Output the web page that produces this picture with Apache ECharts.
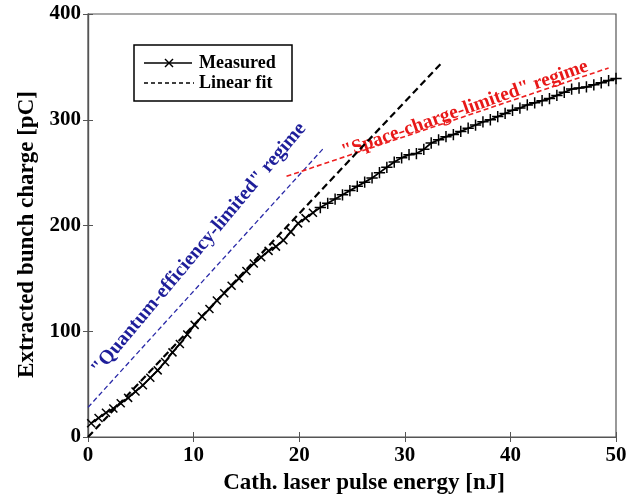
<!DOCTYPE html>
<html><head><meta charset="utf-8">
<script src="https://cdn.jsdelivr.net/npm/echarts@6/dist/echarts.min.js"></script>
<style>html,body{margin:0;padding:0;background:#fff}#c{width:639px;height:500px}</style>
</head><body><div id="c"></div>
<script>
const energy = [0.3,1.0,1.7,2.4,3.1,3.8,4.5,5.2,5.9,6.6,7.3,8.0,8.7,9.4,10.1,10.8,11.5,12.2,12.9,13.6,14.3,15.0,15.7,16.4,17.1,17.8,18.5,19.2,19.9,20.6,21.3,22.0,22.7,23.4,24.1,24.8,25.5,26.2,26.9,27.6,28.3,29.0,29.7,30.4,31.1,31.8,32.5,33.2,33.9,34.6,35.3,36.0,36.7,37.4,38.1,38.8,39.5,40.2,40.9,41.6,42.3,43.0,43.7,44.4,45.1,45.8,46.5,47.2,47.9,48.6,49.3,50.0];
const charge = [13,18,23,27,32,37,43,49,56,63,71,80,88,97,106,114,121,129,136,143,150,157,164,170,176,180,186,194,202,207,212,217,221,225,229,233,237,241,245,250,255,260,264,267,268,272,278,281,284,286,289,292,295,298,300,303,306,309,311,314,316,318,320,323,326,329,330,331,333,335,337,339];
const fitX = [0, 33.6], fitY = [0, 355];
const qeX = [0, 22.3], qeY = [28, 273];
const scX = [18.8, 49.3], scY = [246.5, 349];
const xTicks = [0,10,20,30,40,50];
const yTicks = [0,100,200,300,400];
const legendNames = ['Measured', 'Linear fit'];
const qeLabel = '"Quantum-efficiency-limited" regime';
const scLabel = '"Space-charge-limited" regime';
const qeLabelPos = [10.5, 178];
const scLabelPos = [35.7, 310];

const FONT = '"Times New Roman", "Liberation Serif", serif';
const pair = (xs, ys) => xs.map((v, i) => [v, ys[i]]);
const chart = echarts.init(document.getElementById('c'));
const axisCommon = {
  axisLine: {show: true, lineStyle: {color: '#555', width: 1.2}},
  axisTick: {show: true, inside: true, length: 5, lineStyle: {color: '#555'}},
  splitLine: {show: false}
};
const lblStyle = {fontFamily: FONT, fontWeight: 'bold', fontSize: 21, color: '#000'};
const nameStyle = {fontFamily: FONT, fontWeight: 'bold', fontSize: 23, color: '#000'};

// hand-drawn legend box (decoration only)
const LX = 134, LY = 45;
const legendGraphic = [
  {type: 'rect', shape: {x: LX, y: LY, width: 158, height: 56}, style: {fill: '#fff', stroke: '#000', lineWidth: 1.5}, z: 10},
  {type: 'line', shape: {x1: LX + 10, y1: LY + 18, x2: LX + 58, y2: LY + 18}, style: {stroke: '#000', lineWidth: 1.5}, z: 11},
  {type: 'line', shape: {x1: LX + 31, y1: LY + 14, x2: LX + 39, y2: LY + 22}, style: {stroke: '#000', lineWidth: 1.5}, z: 11},
  {type: 'line', shape: {x1: LX + 39, y1: LY + 14, x2: LX + 31, y2: LY + 22}, style: {stroke: '#000', lineWidth: 1.5}, z: 11},
  {type: 'text', x: LX + 65, y: LY + 18, style: {text: legendNames[0], fill: '#000', font: 'bold 18px ' + FONT, verticalAlign: 'middle'}, z: 11},
  {type: 'line', shape: {x1: LX + 10, y1: LY + 38, x2: LX + 60, y2: LY + 38}, style: {stroke: '#000', lineWidth: 1.3, lineDash: [4, 3]}, z: 11},
  {type: 'text', x: LX + 65, y: LY + 38, style: {text: legendNames[1], fill: '#000', font: 'bold 18px ' + FONT, verticalAlign: 'middle'}, z: 11}
];

chart.setOption({
  animation: false,
  backgroundColor: '#fff',
  grid: {left: 88, right: 23, top: 14, bottom: 58, show: true, borderColor: '#555', borderWidth: 1.2},
  xAxis: [{
    type: 'value', min: 0, max: 50, interval: 10, ...axisCommon,
    axisLabel: {margin: 8, ...lblStyle, formatter: v => xTicks.includes(v) ? String(v) : ''},
    name: 'Cath. laser pulse energy [nJ]', nameLocation: 'middle', nameGap: 35,
    nameTextStyle: {...nameStyle, padding: [0, 0, 0, 24]}
  }, {
    type: 'value', position: 'top', min: 0, max: 50, interval: 10, ...axisCommon, axisLabel: {show: false}
  }],
  yAxis: [{
    type: 'value', min: 0, max: 400, interval: 100, ...axisCommon,
    axisLabel: {margin: 7, ...lblStyle, formatter: v => yTicks.includes(v) ? String(v) : ''},
    name: 'Extracted bunch charge [pC]', nameLocation: 'middle', nameGap: 48,
    nameTextStyle: {...nameStyle, padding: [0, 18, 0, 0]}
  }, {
    type: 'value', position: 'right', min: 0, max: 400, interval: 100, ...axisCommon, axisLabel: {show: false}
  }],
  series: [
    {name: legendNames[1], type: 'line', data: pair(fitX, fitY), symbol: 'none',
     lineStyle: {color: '#000', width: 2.2, type: [7, 4]}, z: 3},
    {name: 'QE', type: 'line', data: pair(qeX, qeY), symbol: 'none',
     lineStyle: {color: '#2a2aa8', width: 1.3, type: [5, 3]}, z: 2},
    {name: 'SC', type: 'line', data: pair(scX, scY), symbol: 'none',
     lineStyle: {color: '#ee2020', width: 1.6, type: [5, 3]}, z: 2},
    {name: legendNames[0], type: 'line', data: pair(energy, charge),
     symbol: 'path://M0,0L10,10M10,0L0,10', symbolSize: 8,
     symbolRotate: (v) => v[0] < 22 ? 0 : 45,
     itemStyle: {color: '#000', borderColor: '#000', borderWidth: 1.5},
     lineStyle: {color: '#000', width: 1.8}, z: 4}
  ]
});
function addLabels() {
  const p1 = chart.convertToPixel({xAxisIndex: 0, yAxisIndex: 0}, qeLabelPos);
  const p2 = chart.convertToPixel({xAxisIndex: 0, yAxisIndex: 0}, scLabelPos);
  chart.setOption({graphic: legendGraphic.concat([
    {type: 'text', x: p1[0], y: p1[1], rotation: 50 * Math.PI / 180,
     style: {text: qeLabel, fill: '#1e1e9a', font: 'bold 20px ' + FONT, align: 'center', verticalAlign: 'middle'}},
    {type: 'text', x: p2[0], y: p2[1], rotation: 19.5 * Math.PI / 180,
     style: {text: scLabel, fill: '#e81818', font: 'bold 19.5px ' + FONT, align: 'center', verticalAlign: 'middle'}}
  ])});
}
addLabels();
</script></body></html>
